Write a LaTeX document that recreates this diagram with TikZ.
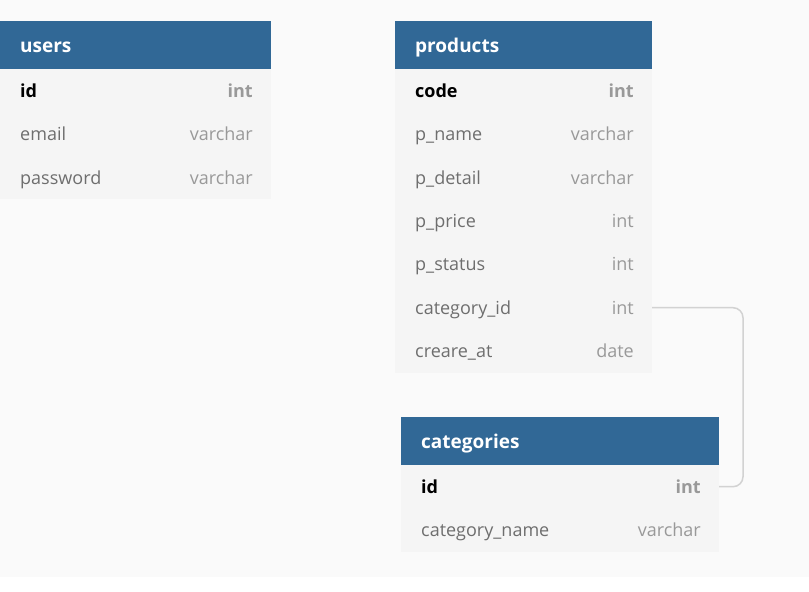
\documentclass[tikz,border=0pt]{standalone}
\usepackage{fontspec}
\setmainfont{Open Sans}
\definecolor{hdr}{HTML}{316896}
\definecolor{rowbg}{HTML}{F5F5F5}
\definecolor{canvas}{HTML}{FAFAFA}
\definecolor{fieldtxt}{HTML}{6E6E6E}
\definecolor{typetxt}{HTML}{999999}
\definecolor{link}{HTML}{D2D2D2}
\newcommand\erow[7]{%
  \node[rowbox, minimum width=#4pt] (#1) at (#2,#3) {};
  \node[#7name, anchor=base west] (#1-n) at ([xshift=20pt,yshift=-6.5pt]#1.west) {#5};
  \node[#7type, anchor=base east] (#1-t) at ([xshift=-18pt,yshift=-6.5pt]#1.east) {#6};
}
\newcommand\ehead[5]{%
  \node[hdrbox, minimum width=#4pt] (#1) at (#2,#3) {};
  \node[hdrtext, anchor=base west] (#1-n) at ([xshift=20pt,yshift=-7pt]#1.west) {#5};
}
\begin{document}
\begin{tikzpicture}[x=1pt,y=-1pt,
  hdrbox/.style={fill=hdr, draw=none, minimum height=48pt, anchor=north west, inner sep=0pt, outer sep=0pt},
  rowbox/.style={fill=rowbg, draw=none, minimum height=43.4pt, anchor=north west, inner sep=0pt, outer sep=0pt},
  hdrtext/.style={text=white, font=\fontsize{19}{22}\selectfont\bfseries, inner sep=0pt},
  keyname/.style={text=black, font=\fontsize{18}{21}\selectfont\bfseries, inner sep=0pt},
  keytype/.style={text=typetxt, font=\fontsize{18}{21}\selectfont\bfseries, inner sep=0pt},
  plainname/.style={text=fieldtxt, font=\fontsize{18}{21}\selectfont, inner sep=0pt},
  plaintype/.style={text=typetxt, font=\fontsize{18}{21}\selectfont, inner sep=0pt},
  relation/.style={draw=link, line width=1.5pt, rounded corners=10pt}]
\fill[canvas] (0,0) rectangle (809,577);
\useasboundingbox (0,0) rectangle (809,592);
% users
\ehead{users}{0}{21}{271}{users}
\erow{users-1}{0}{69}{271}{id}{int}{key}
\erow{users-2}{0}{112.4}{271}{email}{varchar}{plain}
\erow{users-3}{0}{155.8}{271}{password}{varchar}{plain}
% products
\ehead{products}{395}{21}{257}{products}
\erow{products-1}{395}{69}{257}{code}{int}{key}
\erow{products-2}{395}{112.4}{257}{p\_name}{varchar}{plain}
\erow{products-3}{395}{155.8}{257}{p\_detail}{varchar}{plain}
\erow{products-4}{395}{199.2}{257}{p\_price}{int}{plain}
\erow{products-5}{395}{242.6}{257}{p\_status}{int}{plain}
\erow{products-6}{395}{286}{257}{category\_id}{int}{plain}
\erow{products-7}{395}{329.4}{257}{creare\_at}{date}{plain}
% categories
\ehead{categories}{401}{417}{318}{categories}
\erow{categories-1}{401}{465}{318}{id}{int}{key}
\erow{categories-2}{401}{508.4}{318}{category\_name}{varchar}{plain}
% relation
\coordinate (bend) at (743,400);
\draw[relation] (products-6.east) -| (bend |- categories-1.east) -- (categories-1.east);
\end{tikzpicture}
\end{document}
